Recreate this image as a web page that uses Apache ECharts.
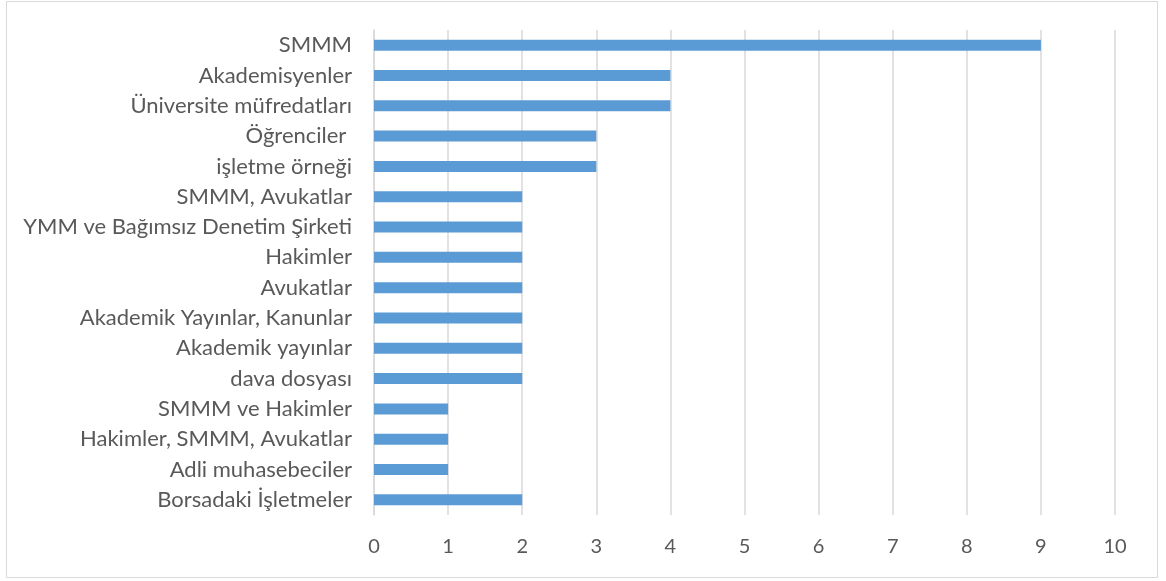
<!DOCTYPE html>
<html><head><meta charset="utf-8">
<script src="https://cdn.jsdelivr.net/npm/echarts@6/dist/echarts.min.js"></script>
<style>html,body{margin:0;padding:0;background:#fff}#c{width:1166px;height:581px}</style>
</head><body><div id="c"></div>
<script>
const categories = ["SMMM","Akademisyenler","Üniversite müfredatları","Öğrenciler ","işletme örneği","SMMM, Avukatlar","YMM ve Bağımsız Denetim Şirketi","Hakimler","Avukatlar","Akademik Yayınlar, Kanunlar","Akademik yayınlar","dava dosyası","SMMM ve Hakimler","Hakimler, SMMM, Avukatlar","Adli muhasebeciler","Borsadaki İşletmeler"];
const values = [9,4,4,3,3,2,2,2,2,2,2,2,1,1,1,2];
const xTicks = [0,1,2,3,4,5,6,7,8,9,10];

const chart = echarts.init(document.getElementById('c'));
chart.setOption({
  animation:false,
  graphic:[{type:'rect',shape:{x:6.5,y:1.5,width:1151,height:576},style:{fill:'none',stroke:'#d9d9d9',lineWidth:1}}],
  grid:{left:374,right:51,top:30,bottom:66,containLabel:false},
  xAxis:{type:'value',min:0,max:10,interval:1,
    axisLine:{show:false},axisTick:{show:false},
    splitLine:{show:true,lineStyle:{color:'#d9d9d9',width:1.5}},
    axisLabel:{margin:22,fontSize:20,color:'#595959',fontFamily:'Lato',formatter:v=>xTicks.includes(v)?String(v):''}},
  yAxis:{type:'category',inverse:true,data:categories,
    axisLine:{show:true,lineStyle:{color:'#d9d9d9',width:1.5}},axisTick:{show:false},
    axisLabel:{margin:22,fontSize:22,color:'#595959',fontFamily:'Lato'}},
  series:[{type:'bar',data:values,barWidth:11,itemStyle:{color:'#5b9bd5'}}]
});
</script></body></html>
